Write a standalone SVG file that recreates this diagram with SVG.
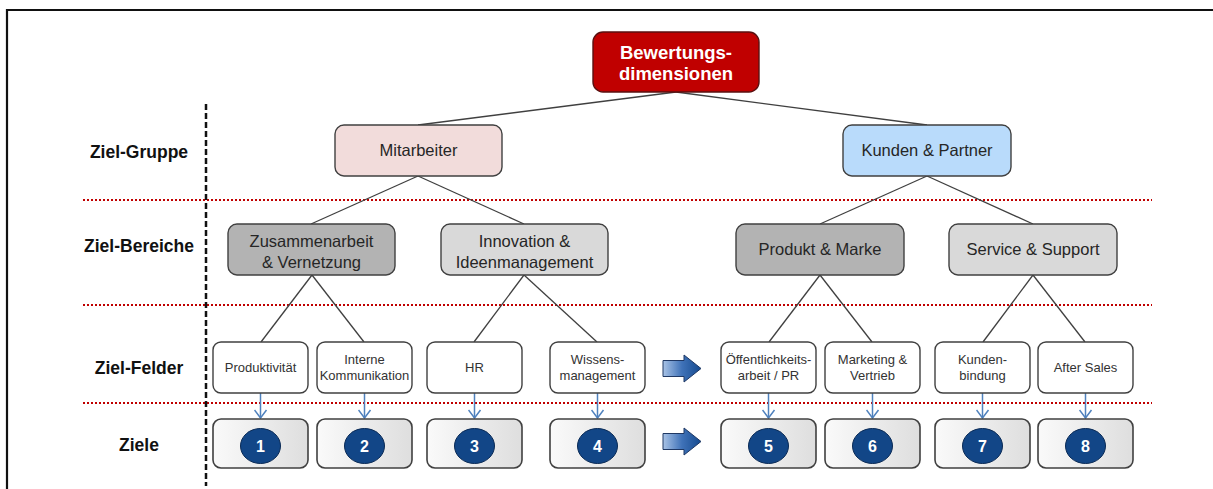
<svg xmlns="http://www.w3.org/2000/svg" width="1213" height="489" viewBox="0 0 1213 489">
<defs>
<style>
.lab{font-family:"Liberation Sans",Arial,sans-serif;font-weight:bold;font-size:17.5px;fill:#111;text-anchor:middle}
.mid{font-family:"Liberation Sans",Arial,sans-serif;font-size:16.5px;fill:#262626;text-anchor:middle}
.sm{font-family:"Liberation Sans",Arial,sans-serif;font-size:13px;fill:#333;text-anchor:middle}
.num{font-family:"Liberation Sans",Arial,sans-serif;font-weight:bold;font-size:16px;fill:#fff;text-anchor:middle}
.top{font-family:"Liberation Sans",Arial,sans-serif;font-weight:bold;font-size:18.5px;fill:#fff;text-anchor:middle}
.box{stroke:#404040;stroke-width:1.4}
.feld{fill:#fff;stroke:#404040;stroke-width:1.4}
.ziel{fill:url(#zg);stroke:#404040;stroke-width:1.6}
.conn{stroke:#404040;stroke-width:1.3;fill:none}
.barr{stroke:#4f81bd;stroke-width:1.5;fill:none;marker-end:url(#chev)}
.sep{stroke:#c00000;stroke-width:2;stroke-dasharray:2 2;fill:none}
.circ{fill:#124687;stroke:#0a2a55;stroke-width:1}
.blk{fill:url(#bg);stroke:#1f3864;stroke-width:1}
</style>
<linearGradient id="zg" x1="0" y1="0" x2="1" y2="0">
<stop offset="0" stop-color="#fafafa"/>
<stop offset="1" stop-color="#dedede"/>
</linearGradient>
<linearGradient id="bg" x1="0" y1="0" x2="1" y2="0">
<stop offset="0" stop-color="#a9c3e6"/>
<stop offset="0.5" stop-color="#3f72b8"/>
<stop offset="1" stop-color="#154a8f"/>
</linearGradient>
<marker id="chev" viewBox="0 0 14 10" refX="7" refY="9" markerWidth="14" markerHeight="10" markerUnits="userSpaceOnUse" orient="0">
<path d="M1,1 L7,9 L13,1" fill="none" stroke="#4f81bd" stroke-width="1.5"/>
</marker>
</defs>
<rect width="1213" height="489" fill="#fff"/>
<path d="M7,489 L7,10 L1213,10" fill="none" stroke="#111" stroke-width="2.2"/>

<g id="separators">
<line class="sep" x1="83" y1="200" x2="1152" y2="200"/>
<line class="sep" x1="83" y1="305" x2="1152" y2="305"/>
<line class="sep" x1="83" y1="403" x2="1152" y2="403"/>
<line x1="206" y1="104" x2="206" y2="486" stroke="#111" stroke-width="2.5" stroke-dasharray="6 3"/>
</g>

<g id="row-labels">
<text class="lab" x="139" y="158">Ziel-Gruppe</text>
<text class="lab" x="139" y="252">Ziel-Bereiche</text>
<text class="lab" x="139" y="374">Ziel-Felder</text>
<text class="lab" x="139" y="451">Ziele</text>
</g>

<g id="connectors">
<line class="conn" x1="676" y1="92" x2="418" y2="125"/>
<line class="conn" x1="676" y1="92" x2="927" y2="125"/>
<line class="conn" x1="418" y1="176" x2="311" y2="224"/>
<line class="conn" x1="418" y1="176" x2="524" y2="224"/>
<line class="conn" x1="927" y1="176" x2="820" y2="224"/>
<line class="conn" x1="927" y1="176" x2="1033" y2="224"/>
<line class="conn" x1="312" y1="275" x2="261" y2="342"/>
<line class="conn" x1="312" y1="275" x2="364" y2="342"/>
<line class="conn" x1="524" y1="275" x2="474" y2="342"/>
<line class="conn" x1="524" y1="275" x2="597" y2="342"/>
<line class="conn" x1="820" y1="275" x2="769" y2="342"/>
<line class="conn" x1="820" y1="275" x2="872" y2="342"/>
<line class="conn" x1="1033" y1="275" x2="983" y2="342"/>
<line class="conn" x1="1033" y1="275" x2="1085" y2="342"/>
<line class="barr" x1="260.5" y1="393" x2="260.5" y2="418"/>
<line class="barr" x1="364.5" y1="393" x2="364.5" y2="418"/>
<line class="barr" x1="474.5" y1="393" x2="474.5" y2="418"/>
<line class="barr" x1="597.5" y1="393" x2="597.5" y2="418"/>
<line class="barr" x1="768.5" y1="393" x2="768.5" y2="418"/>
<line class="barr" x1="872.5" y1="393" x2="872.5" y2="418"/>
<line class="barr" x1="982.5" y1="393" x2="982.5" y2="418"/>
<line class="barr" x1="1085.5" y1="393" x2="1085.5" y2="418"/>
<path class="blk" d="M663,360.5 L684,360.5 L684,355 L701,368.5 L684,382 L684,376.5 L663,376.5 Z"/>
<path class="blk" d="M663,433.5 L684,433.5 L684,428 L701,441.5 L684,455 L684,449.5 L663,449.5 Z"/>
</g>

<g id="node-top">
<rect x="593" y="32" width="166" height="60" rx="10" fill="#c00000" stroke="#5a1010" stroke-width="1.4"/>
<text class="top" x="676" y="59">Bewertungs-</text>
<text class="top" x="676" y="80">dimensionen</text>
</g>

<g id="node-mitarbeiter">
<rect class="box" x="335" y="125" width="167" height="51" rx="9" fill="#f2dcdb"/>
<text class="mid" x="418.5" y="156">Mitarbeiter</text>
</g>
<g id="node-kunden">
<rect class="box" x="843" y="125" width="168" height="51" rx="9" fill="#b9dbfb"/>
<text class="mid" x="927" y="156">Kunden &amp; Partner</text>
</g>

<g id="node-zusammenarbeit">
<rect class="box" x="228" y="224" width="167" height="51" rx="9" fill="#b3b3b3"/>
<text class="mid" x="311.5" y="247">Zusammenarbeit</text>
<text class="mid" x="311.5" y="268">&amp; Vernetzung</text>
</g>
<g id="node-innovation">
<rect class="box" x="441" y="224" width="167" height="51" rx="9" fill="#d9d9d9"/>
<text class="mid" x="524.5" y="247">Innovation &amp;</text>
<text class="mid" x="524.5" y="268">Ideenmanagement</text>
</g>
<g id="node-produkt">
<rect class="box" x="736" y="224" width="168" height="51" rx="9" fill="#b3b3b3"/>
<text class="mid" x="820" y="255">Produkt &amp; Marke</text>
</g>
<g id="node-service">
<rect class="box" x="949" y="224" width="168" height="51" rx="9" fill="#d9d9d9"/>
<text class="mid" x="1033" y="255">Service &amp; Support</text>
</g>

<g id="feld-produktivitaet">
<rect class="feld" x="213" y="342" width="95" height="51" rx="8"/>
<text class="sm" x="260.5" y="372">Produktivität</text>
</g>
<g id="feld-kommunikation">
<rect class="feld" x="317" y="342" width="95" height="51" rx="8"/>
<text class="sm" x="364.5" y="364">Interne</text>
<text class="sm" x="364.5" y="380">Kommunikation</text>
</g>
<g id="feld-hr">
<rect class="feld" x="427" y="342" width="95" height="51" rx="8"/>
<text class="sm" x="474.5" y="372">HR</text>
</g>
<g id="feld-wissen">
<rect class="feld" x="550" y="342" width="95" height="51" rx="8"/>
<text class="sm" x="597.5" y="364">Wissens-</text>
<text class="sm" x="597.5" y="380">management</text>
</g>
<g id="feld-oeffentlichkeit">
<rect class="feld" x="721" y="342" width="95" height="51" rx="8"/>
<text class="sm" x="768.5" y="364">Öffentlichkeits-</text>
<text class="sm" x="768.5" y="380">arbeit / PR</text>
</g>
<g id="feld-marketing">
<rect class="feld" x="825" y="342" width="95" height="51" rx="8"/>
<text class="sm" x="872.5" y="364">Marketing &amp;</text>
<text class="sm" x="872.5" y="380">Vertrieb</text>
</g>
<g id="feld-kundenbindung">
<rect class="feld" x="935" y="342" width="95" height="51" rx="8"/>
<text class="sm" x="982.5" y="364">Kunden-</text>
<text class="sm" x="982.5" y="380">bindung</text>
</g>
<g id="feld-aftersales">
<rect class="feld" x="1038" y="342" width="95" height="51" rx="8"/>
<text class="sm" x="1085.5" y="372">After Sales</text>
</g>

<g id="ziel-1"><rect class="ziel" x="213" y="419" width="95" height="49" rx="8"/><ellipse class="circ" cx="260.5" cy="446" rx="20" ry="17.5"/><text class="num" x="260.5" y="452">1</text></g>
<g id="ziel-2"><rect class="ziel" x="317" y="419" width="95" height="49" rx="8"/><ellipse class="circ" cx="364.5" cy="446" rx="20" ry="17.5"/><text class="num" x="364.5" y="452">2</text></g>
<g id="ziel-3"><rect class="ziel" x="427" y="419" width="95" height="49" rx="8"/><ellipse class="circ" cx="474.5" cy="446" rx="20" ry="17.5"/><text class="num" x="474.5" y="452">3</text></g>
<g id="ziel-4"><rect class="ziel" x="550" y="419" width="95" height="49" rx="8"/><ellipse class="circ" cx="597.5" cy="446" rx="20" ry="17.5"/><text class="num" x="597.5" y="452">4</text></g>
<g id="ziel-5"><rect class="ziel" x="721" y="419" width="95" height="49" rx="8"/><ellipse class="circ" cx="768.5" cy="446" rx="20" ry="17.5"/><text class="num" x="768.5" y="452">5</text></g>
<g id="ziel-6"><rect class="ziel" x="825" y="419" width="95" height="49" rx="8"/><ellipse class="circ" cx="872.5" cy="446" rx="20" ry="17.5"/><text class="num" x="872.5" y="452">6</text></g>
<g id="ziel-7"><rect class="ziel" x="935" y="419" width="95" height="49" rx="8"/><ellipse class="circ" cx="982.5" cy="446" rx="20" ry="17.5"/><text class="num" x="982.5" y="452">7</text></g>
<g id="ziel-8"><rect class="ziel" x="1038" y="419" width="95" height="49" rx="8"/><ellipse class="circ" cx="1085.5" cy="446" rx="20" ry="17.5"/><text class="num" x="1085.5" y="452">8</text></g>
</svg>
